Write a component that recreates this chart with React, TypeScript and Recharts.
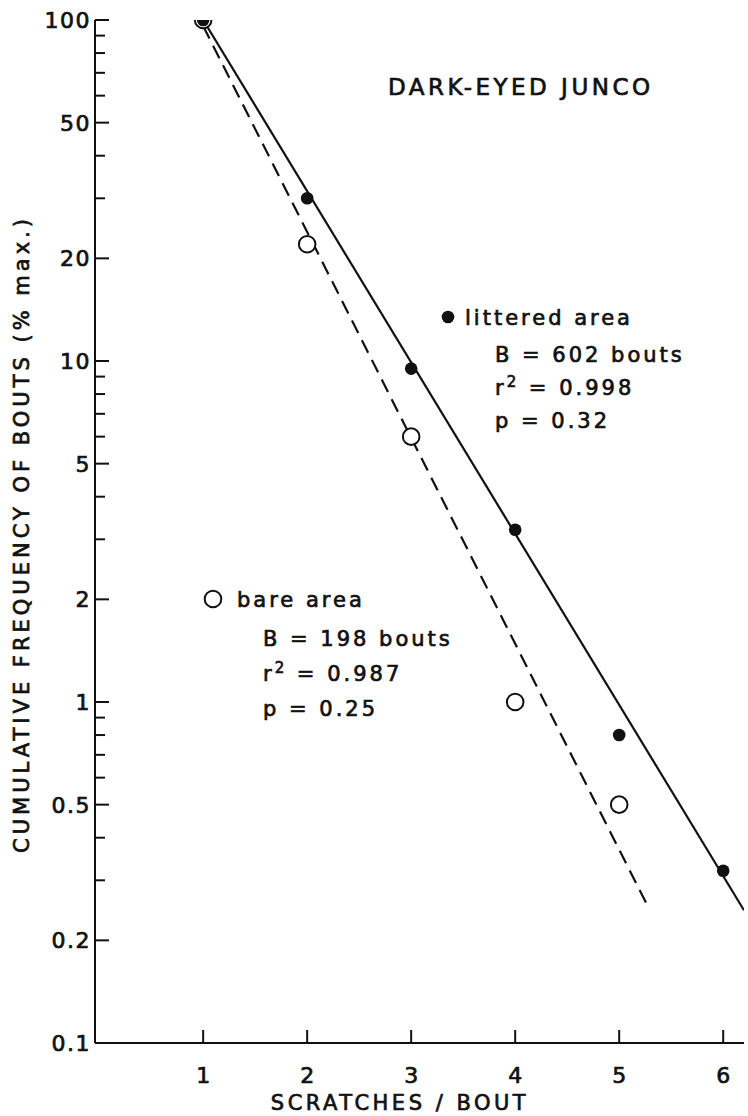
import React from 'react';
import { ScatterChart, Scatter, XAxis, YAxis } from 'recharts';

// values
const scratches = [1, 2, 3, 4, 5, 6];
const litteredFreq = [100, 30, 9.5, 3.2, 0.8, 0.32];
const bareScratches = [1, 2, 3, 4, 5];
const bareFreq = [100, 22, 6, 1.0, 0.5];

// fitted lines (end points)
const litteredFitX = [1, 6.2];
const litteredFitY = [100, 0.245];
const bareFitX = [1, 5.28];
const bareFitY = [96, 0.25];

const xTicks = [1, 2, 3, 4, 5, 6];
const majorTicks = [0.1, 0.2, 0.5, 1, 2, 5, 10, 20, 50, 100];
const minorTicks = [0.3, 0.4, 0.6, 0.7, 0.8, 0.9, 3, 4, 6, 7, 8, 9, 30, 40, 60, 70, 80, 90];

const FONT = '"DejaVu Sans", Verdana, sans-serif';
const INK = '#111';

const zip = (xs: number[], ys: number[]) => xs.map((x, i) => ({ x, y: ys[i] }));

const litteredData = zip(scratches, litteredFreq);
const bareData = zip(bareScratches, bareFreq);
const litteredFit = zip(litteredFitX, litteredFitY);
const bareFit = zip(bareFitX, bareFitY);

// thin outline thickens the lettering a little, like the inked original
const ink = { fontFamily: FONT, fill: INK, stroke: INK, strokeWidth: 0.7 };

function LeftTick(props: any) {
  const { x, y, payload } = props;
  const major = majorTicks.includes(payload.value);
  return (
    <g>
      <line x1={x} x2={x + (major ? 14 : 10)} y1={y} y2={y} stroke={INK} strokeWidth={2} />
      {major && (
        <text x={x - 4} y={y + 8} textAnchor="end" fontSize={22} letterSpacing={1.5} {...ink}>
          {String(payload.value)}
        </text>
      )}
    </g>
  );
}

function RightTick(props: any) {
  const { x, y, payload } = props;
  const major = majorTicks.includes(payload.value);
  return <line x1={x} x2={x - (major ? 13 : 9)} y1={y} y2={y} stroke={INK} strokeWidth={2} />;
}

function BottomTick(props: any) {
  const { x, y, payload } = props;
  return (
    <g>
      <line x1={x} x2={x} y1={y} y2={y - 13} stroke={INK} strokeWidth={2} />
      <text x={x} y={y + 40} textAnchor="middle" fontSize={22} {...ink}>
        {String(payload.value)}
      </text>
    </g>
  );
}

function TopTick(props: any) {
  const { x, y } = props;
  return <line x1={x} x2={x} y1={y} y2={y + 13} stroke={INK} strokeWidth={2} />;
}

const Filled = (p: any) => <circle cx={p.cx} cy={p.cy} r={6.3} fill={INK} />;
const Open = (p: any) => <circle cx={p.cx} cy={p.cy} r={8.3} fill="#fff" stroke={INK} strokeWidth={2} />;
const NoDot = () => <g />;

const txt = { ...ink, fontSize: 21, letterSpacing: 3 };

export default function App() {
  return (
    <div style={{ position: 'absolute', left: 0, top: 0, width: 748, height: 1116, background: '#fff' }}>
      <ScatterChart width={748} height={1116} margin={{ top: 20, right: 4, bottom: 13, left: 15 }}>
        <XAxis
          xAxisId="b"
          type="number"
          dataKey="x"
          domain={[-0.04, 6.2]}
          ticks={xTicks}
          interval={0}
          allowDataOverflow
          height={60}
          tickSize={0}
          tickMargin={0}
          tickLine={false}
          axisLine={{ stroke: INK, strokeWidth: 2 }}
          tick={<BottomTick />}
        />
        <XAxis
          xAxisId="t"
          orientation="top"
          type="number"
          dataKey="x"
          domain={[-0.04, 6.2]}
          ticks={xTicks}
          interval={0}
          allowDataOverflow
          height={0}
          tickSize={0}
          tickMargin={0}
          tickLine={false}
          axisLine={{ stroke: INK, strokeWidth: 2 }}
          tick={<TopTick />}
        />
        <YAxis
          yAxisId="l"
          type="number"
          dataKey="y"
          scale="log"
          domain={[0.1, 100]}
          ticks={[...majorTicks, ...minorTicks]}
          interval={0}
          allowDataOverflow
          width={80}
          tickSize={0}
          tickMargin={0}
          tickLine={false}
          axisLine={{ stroke: INK, strokeWidth: 2 }}
          tick={<LeftTick />}
        />
        <YAxis
          yAxisId="r"
          orientation="right"
          type="number"
          dataKey="y"
          scale="log"
          domain={[0.1, 100]}
          ticks={[...majorTicks, ...minorTicks]}
          interval={0}
          allowDataOverflow
          width={0}
          tickSize={0}
          tickMargin={0}
          tickLine={false}
          axisLine={{ stroke: INK, strokeWidth: 2 }}
          tick={<RightTick />}
        />
        <Scatter
          xAxisId="b"
          yAxisId="l"
          data={litteredFit}
          line={{ stroke: INK, strokeWidth: 2.2 }}
          shape={<NoDot />}
          isAnimationActive={false}
        />
        <Scatter
          xAxisId="b"
          yAxisId="l"
          data={bareFit}
          line={{ stroke: INK, strokeWidth: 2.2, strokeDasharray: '14 8' }}
          shape={<NoDot />}
          isAnimationActive={false}
        />
        <Scatter xAxisId="b" yAxisId="l" data={bareData} shape={<Open />} isAnimationActive={false} />
        <Scatter xAxisId="b" yAxisId="l" data={litteredData} shape={<Filled />} isAnimationActive={false} />
      </ScatterChart>

      <svg width={748} height={1116} style={{ position: 'absolute', left: 0, top: 0, pointerEvents: 'none' }}>
        <text x={388} y={95} {...ink} fontSize={23} letterSpacing={3.5}>
          DARK-EYED JUNCO
        </text>

        <circle cx={448} cy={317} r={6.3} fill={INK} />
        <text x={465} y={325} {...txt}>littered area</text>
        <text x={495} y={362} {...txt}>B = 602 bouts</text>
        <text x={495} y={395} {...txt}>
          r<tspan fontSize={15} dy={-8}>2</tspan>
          <tspan dy={8}> = 0.998</tspan>
        </text>
        <text x={495} y={428} {...txt}>p = 0.32</text>

        <circle cx={213} cy={599} r={8.3} fill="#fff" stroke={INK} strokeWidth={2} />
        <text x={237} y={607} {...txt}>bare area</text>
        <text x={263} y={646} {...txt}>B = 198 bouts</text>
        <text x={263} y={681} {...txt}>
          r<tspan fontSize={15} dy={-8}>2</tspan>
          <tspan dy={8}> = 0.987</tspan>
        </text>
        <text x={263} y={716} {...txt}>p = 0.25</text>

        <text x={400} y={1110} textAnchor="middle" {...ink} fontSize={21} letterSpacing={3.5}>
          SCRATCHES / BOUT
        </text>
        <text
          x={22}
          y={534}
          transform="rotate(-90, 22, 534)"
          textAnchor="middle"
          dominantBaseline="central"
          {...ink}
          fontSize={21}
          letterSpacing={4}
        >
          CUMULATIVE FREQUENCY OF BOUTS (% max.)
        </text>
      </svg>
    </div>
  );
}
